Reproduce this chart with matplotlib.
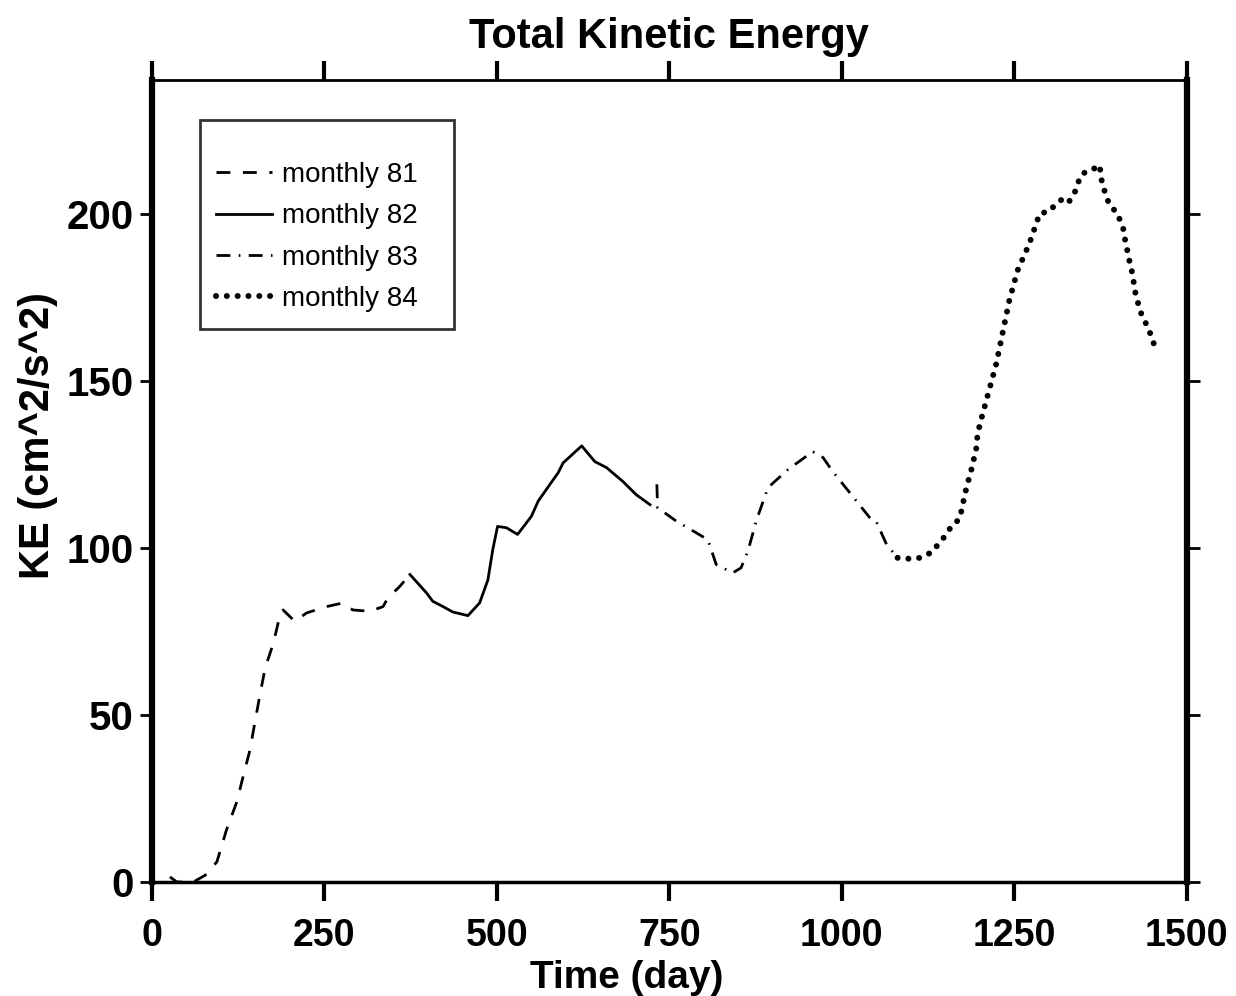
import matplotlib.pyplot as plt

plt.rcParams['font.family'] = ['Liberation Sans', 'DejaVu Sans']

# monthly 81 (dashed)
day81 = [26, 36, 60, 77, 94, 108, 123, 132, 142, 149, 156, 164, 176, 185, 190,
         207, 224, 253, 277, 291, 316, 335, 342, 359, 374]
ke81 = [1.5, 0, 0, 2, 6, 15.6, 24, 31.5, 39.5, 47.6, 55.5, 64, 71.5, 79.4, 81.4,
        78, 80.5, 82.4, 83.5, 81.4, 81, 82.4, 85, 88.4, 92]

# monthly 82 (solid)
day82 = [374, 398, 407, 422, 436, 458, 475, 487, 494, 501, 514, 530, 550, 560,
         577, 589, 596, 623, 642, 659, 683, 702, 722]
ke82 = [92, 86.5, 84, 82.4, 80.8, 79.7, 83.5, 90.4, 99.4, 106.4, 106, 104, 109.4,
        114, 119, 122.5, 125.4, 130.5, 125.8, 124, 119.8, 115.9, 112.9]

# monthly 83 (dash-dot)
day83 = [732, 733, 760, 789, 806, 818, 842, 854, 864, 876, 893, 922, 958, 973,
         987, 1014, 1043, 1050, 1065, 1081]
ke83 = [119, 112, 108, 104.5, 102.4, 95, 92.5, 94, 99, 108, 118, 123.4, 128.8,
        127, 122.8, 115.9, 108.4, 107.9, 101, 97]

# monthly 84 (dotted)
day84 = [1081, 1099, 1113, 1129, 1140, 1150, 1159, 1171, 1175, 1179, 1183, 1188,
         1195, 1197, 1201, 1224, 1243, 1255, 1272, 1287, 1301, 1311, 1323, 1330,
         1338, 1342, 1349, 1362, 1374, 1376, 1378, 1384, 1388, 1400, 1404, 1409,
         1411, 1414, 1417, 1420, 1423, 1425, 1429, 1433, 1439, 1445, 1451, 1456]
ke84 = [97, 96.7, 97, 98.5, 101, 103.6, 106.4, 108.7, 112.4, 116.4, 119.6, 123.4,
        129.6, 134, 137.5, 155, 174, 183, 191, 200, 200.7, 203, 204.8, 203.7,
        206.4, 209, 212, 213, 214.5, 211, 208.7, 205, 202.7, 200, 197.7, 195,
        192, 189, 186, 183.5, 180, 177, 173.7, 170.7, 168, 165.5, 162, 159]

fig = plt.figure(figsize=(12.36, 9.96), dpi=100)
ax = fig.add_axes([0.123, 0.1145, 0.837, 0.8052])

ax.plot(day81, ke81, color='black', lw=2.0, linestyle=(0, (5, 4.5)),
        label='monthly 81')
ax.plot(day82, ke82, color='black', lw=2.0, linestyle='-', label='monthly 82')
ax.plot(day83, ke83, color='black', lw=2.0, linestyle=(0, (5, 3, 0.6, 3)),
        label='monthly 83')
ax.plot(day84, ke84, color='black', lw=4.3, linestyle=(0, (0.01, 1.8)),
        dash_capstyle='round', label='monthly 84')

ax.set_xlim(0, 1500)
ax.set_ylim(0, 240)
ax.set_xticks([0, 250, 500, 750, 1000, 1250, 1500])
ax.set_yticks([0, 50, 100, 150, 200])

ax.spines['left'].set_linewidth(4.5)
ax.spines['right'].set_linewidth(4.5)
ax.spines['top'].set_linewidth(2)
ax.spines['bottom'].set_linewidth(2.5)

ax.tick_params(axis='x', direction='out', length=14, width=3, top=True,
               labelsize=27, pad=12)
ax.tick_params(axis='y', direction='out', length=9, width=2, right=True,
               labelsize=29, pad=4)
for lab in ax.get_xticklabels() + ax.get_yticklabels():
    lab.set_fontweight('bold')

ax.set_title('Total Kinetic Energy', fontsize=30, fontweight='bold', pad=23)
ax.set_xlabel('Time (day)', fontsize=28, fontweight='bold')
ax.xaxis.set_label_coords(0.459, -0.097)
ax.set_ylabel('KE (cm^2/s^2)', fontsize=30, fontweight='bold')
ax.yaxis.set_label_coords(-0.091, 0.557)

leg = ax.legend(loc='upper left', bbox_to_anchor=(0.046, 0.60, 0.246, 0.35),
                mode='expand', fontsize=20,
                frameon=True, fancybox=False, edgecolor='black',
                handlelength=2.0, borderpad=0.6, labelspacing=0.55,
                handletextpad=0.36, borderaxespad=0,
                title=' ', title_fontsize=7)
leg.get_frame().set_linewidth(2)

fig.savefig('out.png', dpi=100)
